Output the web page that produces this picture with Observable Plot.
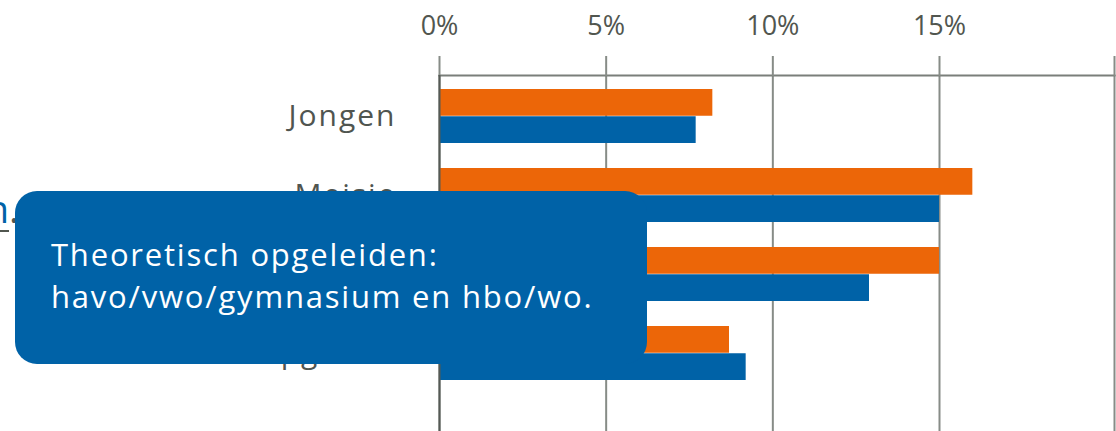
<!DOCTYPE html>
<html><head><meta charset="utf-8">
<script src="https://cdn.jsdelivr.net/npm/d3@7"></script>
<script src="https://cdn.jsdelivr.net/npm/@observablehq/plot@0.6"></script>
<style>
html,body{margin:0;padding:0;background:#fff;overflow:hidden}
#wrap{position:relative;width:1116px;height:431px;overflow:hidden;font-family:"Open Sans",sans-serif}
#chart{position:absolute;left:0;top:0}
#edge{position:absolute;left:-300px;top:189px;width:319px;text-align:right;font-size:38px;line-height:38px;color:#51564f;white-space:nowrap}
#edge span{color:#0062a7;text-decoration:underline;text-decoration-color:#51564f;text-decoration-thickness:2px;text-underline-offset:7px}
#tip{position:absolute;left:15px;top:191px;width:632px;height:173px;background:#0062a7;border-radius:22px;color:#fff;font-size:31px;line-height:42px;box-sizing:border-box;padding:42px 0 0 36px;white-space:nowrap;letter-spacing:1.8px}
#chart svg g[aria-label="y-axis tick label"] text{letter-spacing:2px}
</style></head><body>
<div id="wrap"><div id="chart"></div>
<div id="edge">opgeleide<span>n</span>.</div>
<div id="tip"><div id="tip1">Theoretisch opgeleiden:</div><div id="tip2">havo/vwo/gymnasium en hbo/wo.</div></div>
</div>
<script>
const categories = ["Jongen", "Meisje", "Praktisch opgeleid", "Theoretisch opgeleid"];
const orangeValues = [8.2, 16.0, 15.0, 8.7];
const blueValues = [7.7, 15.0, 12.9, 9.2];
const tickValues = [0, 5, 10, 15];
const tickLabels = ["0%", "5%", "10%", "15%"];
const xMax = 20.25;

const data = categories.flatMap((c, i) => [
  {cat: c, serie: "oranje", v: orangeValues[i]},
  {cat: c, serie: "blauw", v: blueValues[i]}
]);

const yTop = 89, yBottom = 382, pad = 0.3145;
const step = (yBottom - yTop) / (categories.length - pad);
const bw = step * (1 - pad);
const gridTicks = [...tickValues, xMax];

const chart = Plot.plot({
  width: 1116, height: 431,
  marginLeft: 439, marginRight: 2, marginTop: 75, marginBottom: 0,
  x: {domain: [0, xMax]},
  y: {domain: categories, range: [yTop, yBottom], paddingInner: pad, paddingOuter: 0, align: 0},
  style: {fontFamily: "Open Sans", fontSize: "27px", color: "#51564f", background: "transparent"},
  marks: [
    Plot.gridX(gridTicks, {stroke: "#878c87", strokeOpacity: 1, strokeWidth: 2}),
    Plot.frame({anchor: "top", stroke: "#7a7f7a", strokeWidth: 2}),
    Plot.axisX({anchor: "top", ticks: gridTicks, tickFormat: d => { const k = tickValues.indexOf(d); return k >= 0 ? tickLabels[k] : ""; }, tickSize: 20, tickPadding: 21, stroke: "#878c87", strokeWidth: 2, fontSize: 27, fill: "#51564f", label: null}),
    Plot.axisY({tickSize: 0, tickPadding: 43, fontSize: 30, fill: "#505550", label: null}),
    Plot.barX(data.filter(d => d.serie === "oranje"), {x: "v", y: "cat", fill: "#ec6608", insetBottom: bw / 2}),
    Plot.barX(data.filter(d => d.serie === "blauw"), {x: "v", y: "cat", fill: "#0062a7", insetTop: bw / 2}),
    Plot.ruleX([0], {stroke: "#555a55", strokeWidth: 2})
  ]
});
document.getElementById("chart").appendChild(chart);
</script>
</body></html>
